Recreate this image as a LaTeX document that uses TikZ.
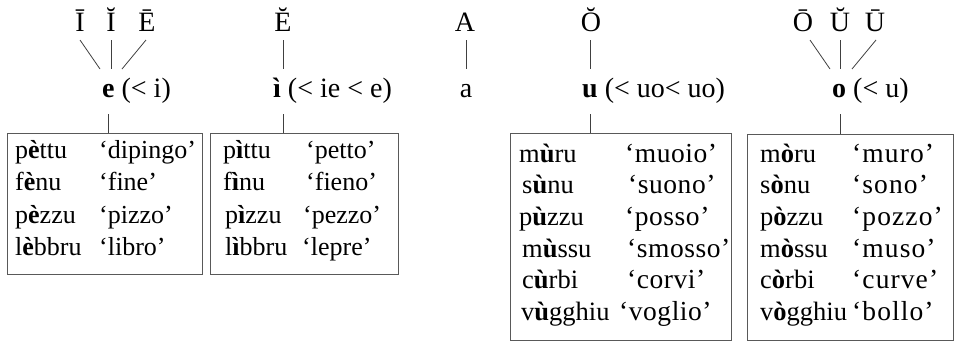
\documentclass[tikz,border=0pt]{standalone}
\usepackage{fontspec}
\setmainfont{Liberation Serif}
\newcommand{\bigfs}{\fontsize{26}{31}\selectfont}
\newcommand{\colfs}{\fontsize{26.5}{32}\selectfont}
\newcommand{\midfs}{\fontsize{27.5}{33}\selectfont}
\newcommand{\hdfs}{\fontsize{28}{33}\selectfont}
\newcommand{\spA}{\addfontfeature{LetterSpace=2}}
\newcommand{\spB}{\addfontfeature{LetterSpace=4}}
\begin{document}
\begin{tikzpicture}[x=1pt,y=-1pt,
  lbl/.style={anchor=base, inner sep=0pt, font=\hdfs},
  lblw/.style={anchor=base west, inner sep=0pt, font=\hdfs},
  cell/.style={anchor=base west, inner sep=0pt, font=\bigfs},
  cellr/.style={anchor=base west, inner sep=0pt, font=\colfs},
  glA/.style={anchor=base west, inner sep=0pt, font=\midfs\spA},
  glB/.style={anchor=base west, inner sep=0pt, font=\midfs\spB},
  conn/.style={draw=black!75, line width=0.8pt},
  wbox/.style={draw=black!65, line width=0.9pt, anchor=north west, inner sep=0pt}]
\useasboundingbox (0,0) rectangle (955,341);
% top row
\node[lbl] (tI1) at (80,31) {Ī};
\node[lbl] (tI2) at (111,31) {Ĭ};
\node[lbl] (tE1) at (147,31) {Ē};
\node[lbl] (tE2) at (283,31) {Ĕ};
\node[lbl] (tA) at (465,31) {A};
\node[lbl] (tO2) at (591,31) {Ŏ};
\node[lbl] (tO1) at (803,31) {Ō};
\node[lbl] (tU2) at (840,31) {Ŭ};
\node[lbl] (tU1) at (875,31) {Ū};
% middle row
\node[lblw] (me) at (102,97) {\textbf{e} (< i)};
\node[lblw] (mi) at (273,97) {\textbf{ì} (< ie < e)};
\node[lbl] (ma) at (466,97) {a};
\node[lblw] (mu) at (582,97) {\textbf{u} (< uo< uo)};
\node[lblw] (mo) at (832,97) {\textbf{o} (< u)};
% connector end points
\coordinate (a1) at (80,40);  \coordinate (a2) at (100,69);
\coordinate (b1) at (111,40); \coordinate (b2) at (111,69);
\coordinate (c1) at (146,40); \coordinate (c2) at (122,69);
\coordinate (d1) at (283,40); \coordinate (d2) at (283,69);
\coordinate (e1) at (466,40); \coordinate (e2) at (466,69);
\coordinate (f1) at (590,40); \coordinate (f2) at (590,69);
\coordinate (g1) at (810,40); \coordinate (g2) at (830,69);
\coordinate (h1) at (840,40); \coordinate (h2) at (840,69);
\coordinate (k1) at (876,40); \coordinate (k2) at (852,69);
\draw[conn] (a1) -- (a2);
\draw[conn] (b1) -- (b2);
\draw[conn] (c1) -- (c2);
\draw[conn] (d1) -- (d2);
\draw[conn] (e1) -- (e2);
\draw[conn] (f1) -- (f2);
\draw[conn] (g1) -- (g2);
\draw[conn] (h1) -- (h2);
\draw[conn] (k1) -- (k2);
% boxes
\node[wbox, minimum width=195pt, minimum height=141pt] (bx1) at (7,133) {};
\node[wbox, minimum width=188pt, minimum height=141pt] (bx2) at (210,133) {};
\node[wbox, minimum width=221pt, minimum height=207pt] (bx3) at (510,133) {};
\node[wbox, minimum width=206pt, minimum height=206pt] (bx4) at (747,134) {};
\coordinate (m1) at (108,114);
\coordinate (m2) at (283,114);
\coordinate (m3) at (590,114);
\coordinate (m4) at (840,114);
\draw[conn] (m1) -- (m1 |- bx1.north);
\draw[conn] (m2) -- (m2 |- bx2.north);
\draw[conn] (m3) -- (m3 |- bx3.north);
\draw[conn] (m4) -- (m4 |- bx4.north);
% box 1
\node[cell] (p11) at (15,158) {p\textbf{è}ttu};
\node[cell] (q11) at (99,158) {‘dipingo’};
\node[cell] (p12) at (15,190) {f\textbf{è}nu};
\node[cell] (q12) at (99,190) {‘fine’};
\node[cell] (p13) at (15,223) {p\textbf{è}zzu};
\node[cell] (q13) at (99,223) {‘pizzo’};
\node[cell] (p14) at (15,255) {l\textbf{è}bbru};
\node[cell] (q14) at (99,255) {‘libro’};
% box 2
\node[cell] (p21) at (223,158) {p\textbf{ì}ttu};
\node[cell] (q21) at (306,158) {‘petto’};
\node[cell] (p22) at (223,190) {f\textbf{ì}nu};
\node[cell] (q22) at (306,190) {‘fieno’};
\node[cell] (p23) at (225,223) {p\textbf{ì}zzu};
\node[cell] (q23) at (303,223) {‘pezzo’};
\node[cell] (p24) at (225,255) {l\textbf{ì}bbru};
\node[cell] (q24) at (302,255) {‘lepre’};
% box 3
\node[cellr] (p31) at (519,162) {m\textbf{ù}ru};
\node[glA] (q31) at (625,162) {‘muoio’};
\node[cellr] (p32) at (522,193) {s\textbf{ù}nu};
\node[glA] (q32) at (628,193) {‘suono’};
\node[cellr] (p33) at (519,225) {p\textbf{ù}zzu};
\node[glA] (q33) at (625,225) {‘posso’};
\node[cellr] (p34) at (522,257) {m\textbf{ù}ssu};
\node[glA] (q34) at (627,257) {‘smosso’};
\node[cellr] (p35) at (522,288) {c\textbf{ù}rbi};
\node[glA] (q35) at (627,288) {‘corvi’};
\node[cellr] (p36) at (521,320) {v\textbf{ù}gghiu};
\node[glA] (q36) at (619,320) {‘voglio’};
% box 4
\node[cellr] (p41) at (760,162) {m\textbf{ò}ru};
\node[glB] (q41) at (852,162) {‘muro’};
\node[cellr] (p42) at (760,193) {s\textbf{ò}nu};
\node[glB] (q42) at (852,193) {‘sono’};
\node[cellr] (p43) at (760,225) {p\textbf{ò}zzu};
\node[glB] (q43) at (852,225) {‘pozzo’};
\node[cellr] (p44) at (760,257) {m\textbf{ò}ssu};
\node[glB] (q44) at (852,257) {‘muso’};
\node[cellr] (p45) at (760,288) {c\textbf{ò}rbi};
\node[glB] (q45) at (852,288) {‘curve’};
\node[cellr] (p46) at (760,320) {v\textbf{ò}gghiu};
\node[glB] (q46) at (852,320) {‘bollo’};
\end{tikzpicture}
\end{document}
